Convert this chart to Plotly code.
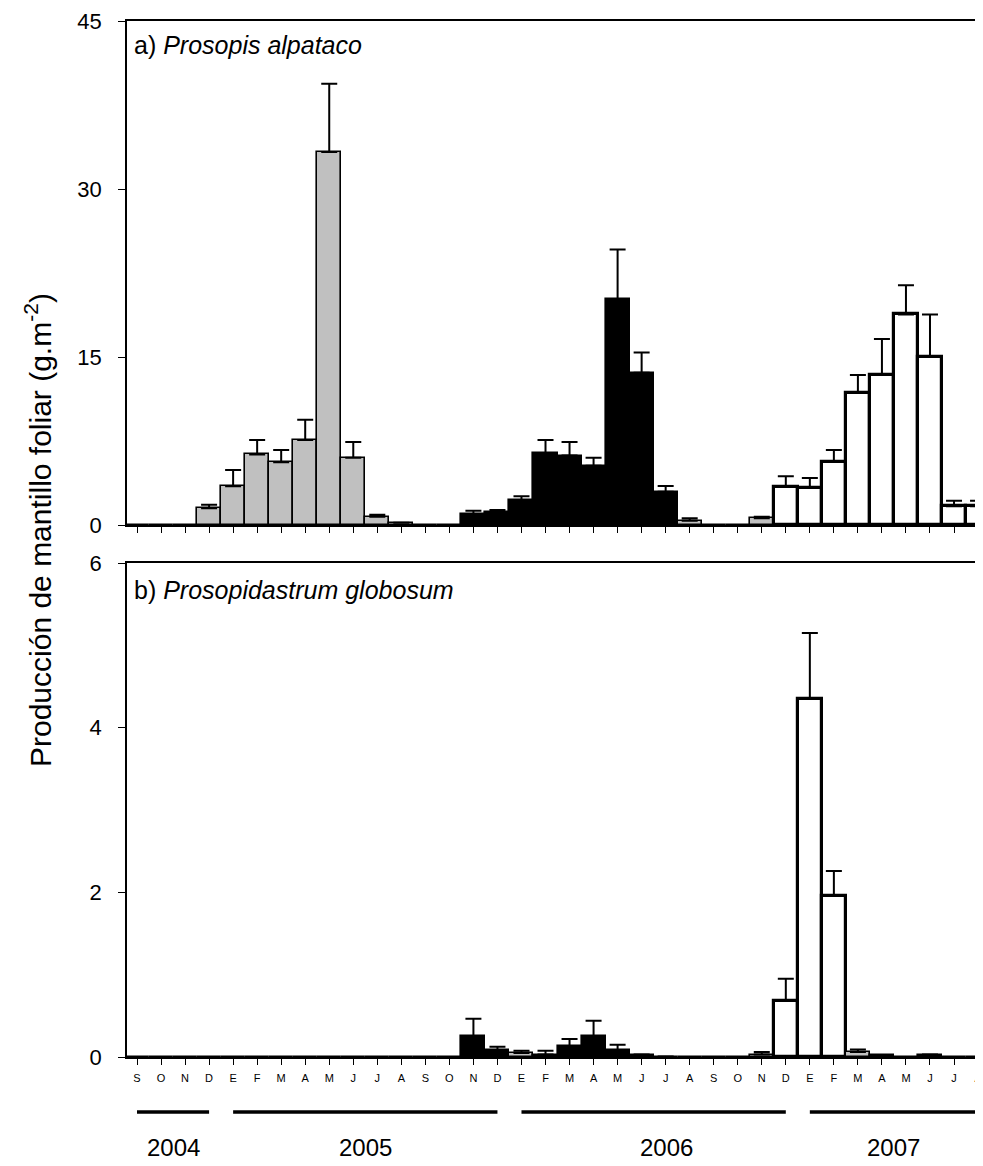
import plotly.graph_objects as go

months = ["S", "O", "N", "D",
          "E", "F", "M", "A", "M", "J", "J", "A", "S", "O", "N", "D",
          "E", "F", "M", "A", "M", "J", "J", "A", "S", "O", "N", "D",
          "E", "F", "M", "A", "M", "J", "J", "A"]
years = ["2004", "2005", "2006", "2007"]

# a) Prosopis alpataco (g.m-2): mean and top of error bar
top_vals = [0, 0, 0, 1.5, 3.45, 6.3, 5.6, 7.6, 33.3, 6.0, 0.74, 0.2, 0, 0,
            0.98, 1.13, 2.2, 6.4, 6.2, 5.3, 20.15, 13.6, 2.97, 0.39, 0, 0,
            0.6, 3.42, 3.3, 5.65, 11.8, 13.4, 18.8, 15.0, 1.67, 1.67]
top_hi = [0, 0, 0, 1.8, 4.9, 7.6, 6.7, 9.4, 39.4, 7.4, 0.92, 0.2, 0, 0,
          1.28, 1.34, 2.56, 7.6, 7.4, 6.0, 24.6, 15.4, 3.48, 0.6, 0, 0,
          0.74, 4.35, 4.2, 6.7, 13.4, 16.6, 21.4, 18.8, 2.17, 2.17]
top_group = ["g"] * 14 + ["k"] * 9 + ["g", "k", "k", "g"] + ["w"] * 9

# b) Prosopidastrum globosum (g.m-2)
bot_vals = [0] * 14 + [0.25, 0.08, 0.05, 0.03, 0.13, 0.25, 0.085, 0.03, 0.005,
                       0, 0, 0, 0.03, 0.68, 4.35, 1.96, 0.06, 0.02, 0, 0.02, 0, 0]
bot_hi = [0] * 14 + [0.465, 0.125, 0.077, 0.077, 0.22, 0.44, 0.15, 0.03, 0.005,
                     0, 0, 0, 0.06, 0.95, 5.15, 2.26, 0.09, 0.02, 0, 0.03, 0, 0]
bot_group = ["g"] * 14 + ["k", "k", "g"] + ["k"] * 6 + ["k", "k", "k", "g"] + \
            ["w", "w", "w", "g"] + ["k"] * 5

FILL = {"g": "#c0c0c0", "k": "#000000", "w": "#ffffff"}
LW = {"g": 1.6, "k": 1.6, "w": 3.2}

OFF = 8          # page body offset
W, H = 983 - OFF, 1166 - OFF
L = 127 - OFF    # left margin so that the axis sits at x=127 on the page
FONT = "Arial, Liberation Sans, sans-serif"


def px_y(p):
    return 1 - (p - OFF) / H


def px_x(p):
    return (p - OFF - L) / (W - L)


xs = list(range(len(months)))

fig = go.Figure()
for vals, hi, grp, xa, ya in [(top_vals, top_hi, top_group, "x", "y"),
                              (bot_vals, bot_hi, bot_group, "x2", "y2")]:
    fig.add_trace(go.Bar(
        x=xs, y=vals, xaxis=xa, yaxis=ya,
        marker=dict(color=[FILL[g] for g in grp],
                    line=dict(color="black", width=[LW[g] for g in grp])),
        error_y=dict(type="data", symmetric=False,
                     array=[h - v for h, v in zip(hi, vals)],
                     arrayminus=[0] * len(vals),
                     color="black", thickness=2, width=8),
        showlegend=False, hoverinfo="skip"))

xr = [-0.416, -0.416 + (W - L) / 24.03]
ytick_font = dict(family=FONT, size=22, color="black")
common_x = dict(range=xr, tickmode="array", tickvals=xs, showgrid=False, zeroline=False,
                showline=True, linecolor="black", linewidth=1.5, mirror=True,
                ticks="outside", ticklen=6, tickcolor="black", tickwidth=1.2,
                automargin=False)
common_y = dict(showgrid=False, zeroline=False, showline=True, linecolor="black",
                linewidth=1.5, ticks="outside", ticklen=7, tickcolor="black",
                tickfont=ytick_font, automargin=False, ticklabelstandoff=12)
fig.update_layout(
    width=W, height=H, margin=dict(l=L, r=0, t=0, b=0, autoexpand=False),
    plot_bgcolor="white", paper_bgcolor="white", bargap=0,
    font=dict(family=FONT, color="black"),
    xaxis=dict(**common_x, anchor="y", showticklabels=False),
    yaxis=dict(**common_y, domain=[px_y(525), px_y(21)], range=[0, 45],
               tickvals=[0, 15, 30, 45]),
    xaxis2=dict(**common_x, anchor="y2", ticktext=months, showticklabels=True,
                ticklabelstandoff=4,
                tickfont=dict(family=FONT, size=11, color="black")),
    yaxis2=dict(**common_y, domain=[px_y(1057), px_y(563)], range=[0, 6],
                tickvals=[0, 2, 4, 6]),
)

# year lines and labels
spans = [(0, 3), (4, 15), (16, 27), (28, 35.6)]
label_pos = [1.5, 9.5, 22.05, 31.5]
for (a, b), yr, lp in zip(spans, years, label_pos):
    fig.add_shape(type="line", xref="x2", yref="paper", x0=a, x1=b,
                  y0=px_y(1112), y1=px_y(1112), line=dict(color="black", width=3.5))
    fig.add_annotation(text=yr, xref="x2", yref="paper", x=lp, y=px_y(1147),
                       showarrow=False, font=dict(family=FONT, size=24, color="black"),
                       xanchor="center", yanchor="middle")

fig.add_annotation(text="a) <i>Prosopis alpataco</i>", xref="paper", yref="paper",
                   x=px_x(132), y=px_y(45), xanchor="left", yanchor="middle",
                   showarrow=False, font=dict(family=FONT, size=25, color="black"))
fig.add_annotation(text="b) <i>Prosopidastrum globosum</i>", xref="paper", yref="paper",
                   x=px_x(132), y=px_y(590), xanchor="left", yanchor="middle",
                   showarrow=False, font=dict(family=FONT, size=25, color="black"))
fig.add_annotation(text="Producción de mantillo foliar (g.m<sup>-2</sup>)",
                   xref="paper", yref="paper", x=px_x(38), y=px_y(530),
                   textangle=-90, xanchor="center", yanchor="middle", showarrow=False,
                   font=dict(family=FONT, size=30, color="black"))

fig.write_html("out.html")
